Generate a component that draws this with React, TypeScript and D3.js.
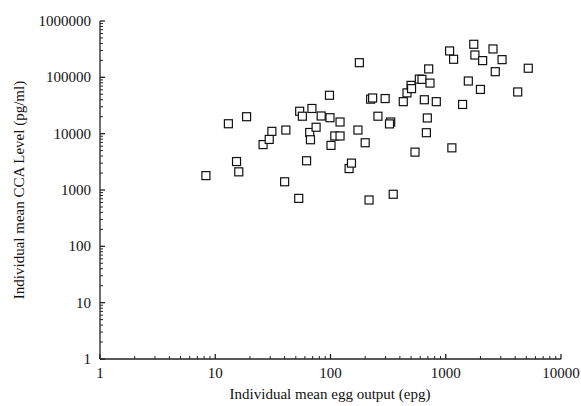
import React from 'react';
import * as d3 from 'd3';

// individual mean egg output (epg) per person
const eggOutput = [
  8.3, 13, 18.7, 15.3, 16, 26, 29.4, 31, 41, 40,
  53, 54, 57, 62, 66, 67, 69, 75, 83, 98,
  99, 101, 109, 121, 121, 145, 152, 173, 178, 200,
  216, 223, 232, 258, 298, 333, 325, 350, 428, 461,
  500, 505, 541, 590, 622, 652, 679, 692, 711, 730,
  828, 1130, 1080, 1170, 1400, 1570, 1750, 1790, 2090, 2000,
  2570, 2690, 3080, 4210, 5200,
];

// individual mean CCA level (pg/ml), same order
const ccaLevel = [
  1800, 15000, 20000, 3200, 2100, 6400, 7900, 11000, 11600, 1400,
  710, 25000, 20400, 3300, 10500, 7800, 28000, 13000, 20600, 48000,
  19200, 6200, 9100, 9100, 16100, 2400, 3000, 11600, 182000, 6900,
  665, 41000, 43000, 20400, 42000, 16100, 14900, 840, 37000, 53000,
  72000, 63000, 4700, 93000, 92000, 40000, 10400, 19000, 141000, 79000,
  37000, 5600, 294000, 209000, 33000, 86000, 386000, 249000, 198000, 61000,
  319000, 126000, 206000, 55000, 145000,
];

const xTicks = [1, 10, 100, 1000, 10000];
const yTicks = [1, 10, 100, 1000, 10000, 100000, 1000000];

const font = '"Liberation Serif", "DejaVu Serif", serif';

export default function App() {
  const width = 581;
  const height = 406;
  const left = 100;
  const right = 561;
  const top = 21;
  const bottom = 359;

  const x = d3.scaleLog().domain([1, 10000]).range([left, right]);
  const y = d3.scaleLog().domain([1, 1000000]).range([bottom, top]);

  // minor ticks 2..9 for each decade
  const minor = (ticks: number[]) => {
    const out: number[] = [];
    ticks.slice(0, -1).forEach((t) => {
      for (let k = 2; k <= 9; k++) out.push(t * k);
    });
    return out;
  };
  const xMinor = minor(xTicks);
  const yMinor = minor(yTicks);

  const points = eggOutput.map((v, i) => ({ x: v, y: ccaLevel[i] }));
  const box = 8;

  return (
    <svg width={width} height={height} style={{ position: 'absolute', left: 0, top: 0, background: '#fff' }}>
      <g stroke="#222" strokeWidth={1.3} fill="none">
        <line x1={left} x2={right} y1={bottom} y2={bottom} />
        <line x1={left} x2={left} y1={top} y2={bottom} />
        {xTicks.map((t) => (
          <line key={'xt' + t} x1={x(t)} x2={x(t)} y1={bottom} y2={bottom - 5} />
        ))}
        {xMinor.map((t) => (
          <line key={'xm' + t} x1={x(t)} x2={x(t)} y1={bottom} y2={bottom - 3} strokeWidth={1} />
        ))}
        {yTicks.map((t) => (
          <line key={'yt' + t} x1={left} x2={left + 5} y1={y(t)} y2={y(t)} />
        ))}
        {yMinor.map((t) => (
          <line key={'ym' + t} x1={left} x2={left + 3} y1={y(t)} y2={y(t)} strokeWidth={1} />
        ))}
      </g>
      <g fontFamily={font} fontSize={15} fill="#111">
        {xTicks.map((t) => (
          <text key={'xl' + t} x={x(t)} y={bottom + 19} textAnchor="middle">
            {t}
          </text>
        ))}
        {yTicks.map((t) => (
          <text key={'yl' + t} x={left - 9} y={y(t) + 5} textAnchor="end">
            {t}
          </text>
        ))}
        <text x={330} y={399} textAnchor="middle">
          Individual mean egg output (epg)
        </text>
        <text transform={`translate(24, ${(top + bottom) / 2}) rotate(-90)`} textAnchor="middle">
          Individual mean CCA Level (pg/ml)
        </text>
      </g>
      <g fill="#fff" stroke="#111" strokeWidth={1.2}>
        {points.map((d, i) => (
          <rect key={i} x={x(d.x) - box / 2} y={y(d.y) - box / 2} width={box} height={box} />
        ))}
      </g>
    </svg>
  );
}
